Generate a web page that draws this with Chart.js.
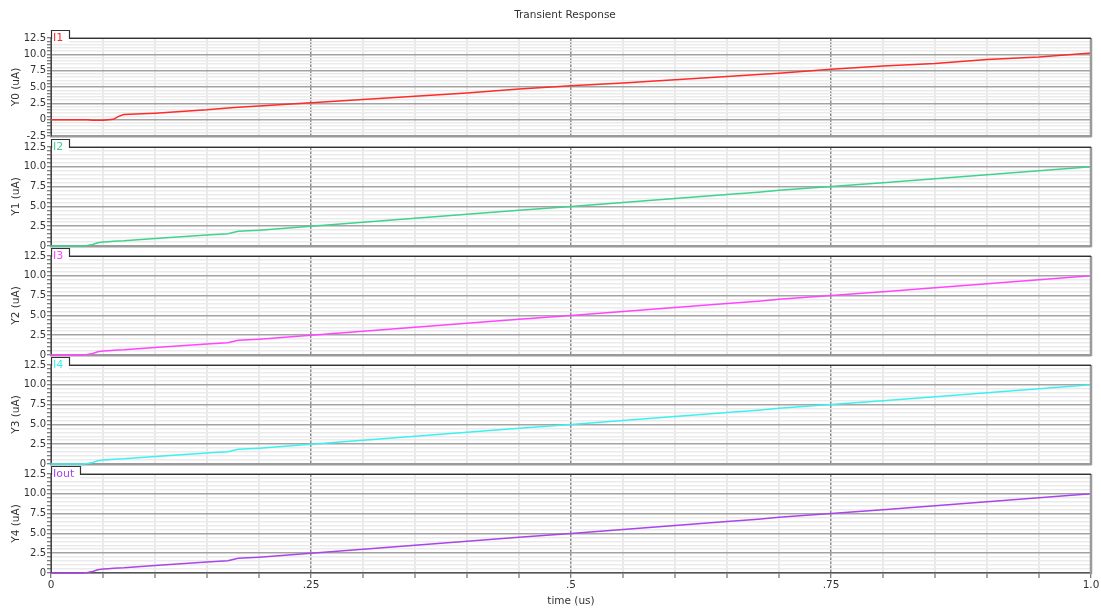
<!DOCTYPE html>
<html>
<head>
<meta charset="utf-8">
<title>Transient Response</title>
<script src="https://cdn.jsdelivr.net/npm/chart.js@4.4.1/dist/chart.umd.min.js"></script>
<style>
  html, body { margin: 0; padding: 0; background: #fff; }
  #wrap { position: relative; width: 1101px; height: 608px; overflow: hidden; background: #fff; }
  #wrap canvas { position: absolute; left: 0; }
</style>
</head>
<body>
<div id="wrap"></div>
<script>
// ---- data -------------------------------------------------------------
const timeUs = [0, 0.03, 0.035, 0.04, 0.045, 0.05, 0.055, 0.06, 0.065, 0.07, 0.1, 0.15, 0.17, 0.18, 0.2,
                0.25, 0.3, 0.35, 0.4, 0.45, 0.5, 0.55, 0.6, 0.65, 0.68, 0.7, 0.75, 0.8, 0.85, 0.9, 0.95, 1.0];

const i1   = [0, 0, 0, -0.1, -0.1, -0.1, 0, 0.05, 0.5, 0.8, 1.0, 1.5, 1.8, 1.9, 2.1,
              2.6, 3.1, 3.6, 4.1, 4.7, 5.2, 5.6, 6.1, 6.6, 6.9, 7.1, 7.7, 8.2, 8.6, 9.2, 9.6, 10.2];
const i2   = [0, 0, 0.05, 0.2, 0.4, 0.5, 0.55, 0.6, 0.62, 0.65, 0.95, 1.4, 1.55, 1.85, 2.0,
              2.5, 3.0, 3.5, 4.0, 4.5, 5.0, 5.5, 6.0, 6.5, 6.8, 7.05, 7.5, 8.0, 8.5, 9.0, 9.5, 10.0];
const i3   = [0, 0, 0.05, 0.2, 0.4, 0.5, 0.55, 0.6, 0.62, 0.65, 0.95, 1.4, 1.55, 1.85, 2.0,
              2.5, 3.0, 3.5, 4.0, 4.5, 5.0, 5.5, 6.0, 6.5, 6.8, 7.05, 7.5, 8.0, 8.5, 9.0, 9.5, 10.0];
const i4   = [0, 0, 0.05, 0.2, 0.4, 0.5, 0.55, 0.6, 0.62, 0.65, 0.95, 1.4, 1.55, 1.85, 2.0,
              2.5, 3.0, 3.5, 4.0, 4.5, 5.0, 5.5, 6.0, 6.5, 6.8, 7.05, 7.5, 8.0, 8.5, 9.0, 9.5, 10.0];
const iout = [0, 0, 0.05, 0.2, 0.4, 0.5, 0.55, 0.6, 0.62, 0.65, 0.95, 1.4, 1.55, 1.85, 2.0,
              2.5, 3.0, 3.5, 4.0, 4.5, 5.0, 5.5, 6.0, 6.5, 6.8, 7.05, 7.5, 8.0, 8.5, 9.0, 9.5, 10.0];

const seriesNames  = ['I1', 'I2', 'I3', 'I4', 'Iout'];
const seriesValues = [i1, i2, i3, i4, iout];
const axisTitles   = ['Y0 (uA)', 'Y1 (uA)', 'Y2 (uA)', 'Y3 (uA)', 'Y4 (uA)'];
const yMins        = [-2.5, 0, 0, 0, 0];
const yMaxs        = [12.5, 12.5, 12.5, 12.5, 12.5];
const xTickValues  = [0, 0.25, 0.5, 0.75, 1.0];
const xTickLabels  = ['0', '.25', '.5', '.75', '1.0'];

// ---- look & layout ----------------------------------------------------
const seriesColors = ['#ff2a2a', '#3fd38c', '#ff45ff', '#3ff0f0', '#a845ec'];
const tabWidths    = [18, 18, 18, 18, 29];
const panelTops    = [38, 147, 256, 365, 474];
const panelBottoms = [136, 246, 355, 464, 573];
const FONT = 'DejaVu Sans';
const PLOT_LEFT = 51, PLOT_RIGHT = 1091, PAGE_W = 1101, PAGE_H = 608;

const near = (v, step) => Math.abs(v / step - Math.round(v / step)) < 1e-6;

// Frame, panel tab and (on the first panel) the plot title.
const framePlugin = {
  id: 'frame',
  afterDraw(chart, args, opts) {
    const { ctx } = chart;
    const { left, top, right, bottom } = chart.chartArea;
    ctx.save();
    // right edge
    ctx.strokeStyle = '#9a9a9a';
    ctx.lineWidth = 2.5;
    ctx.beginPath();
    ctx.moveTo(right, top);
    ctx.lineTo(right, bottom + 1);
    ctx.stroke();
    // tab
    const tw = opts.tabWidth;
    ctx.fillStyle = '#fff';
    ctx.fillRect(left + 1, top - 7, tw - 1, 12);
    ctx.strokeStyle = '#333';
    ctx.lineWidth = 1.2;
    ctx.beginPath();
    ctx.moveTo(left + 0.5, top + 1);
    ctx.lineTo(left + 0.5, top - 7.5);
    ctx.lineTo(left + tw + 0.5, top - 7.5);
    ctx.lineTo(left + tw + 0.5, top + 0.5);
    ctx.lineTo(right, top + 0.5);
    ctx.stroke();
    ctx.font = '11px "' + FONT + '"';
    ctx.fillStyle = opts.color;
    ctx.textAlign = 'left';
    ctx.textBaseline = 'alphabetic';
    ctx.fillText(opts.label, left + 2, top + 3);
    if (opts.title) {
      ctx.font = '10.5px "' + FONT + '"';
      ctx.fillStyle = '#333';
      ctx.textAlign = 'center';
      ctx.textBaseline = 'middle';
      ctx.fillText(opts.title, 565, 15);
    }
    ctx.restore();
  }
};

const wrap = document.getElementById('wrap');

seriesNames.forEach((name, i) => {
  const last = i === seriesNames.length - 1;
  const canvasTop = i === 0 ? 0 : panelTops[i] - 10;
  const padTop = panelTops[i] - canvasTop;
  const padBottom = last ? 0 : (i === 0 ? 3 : 6);
  const xAxisH = last ? PAGE_H - panelBottoms[i] : 0;
  const canvasH = last ? PAGE_H - canvasTop : panelBottoms[i] - canvasTop + padBottom;

  const canvas = document.createElement('canvas');
  canvas.width = PAGE_W;
  canvas.height = canvasH;
  canvas.style.top = canvasTop + 'px';
  canvas.style.width = PAGE_W + 'px';
  canvas.style.height = canvasH + 'px';
  wrap.appendChild(canvas);

  const points = timeUs.map((t, k) => ({ x: t, y: seriesValues[i][k] }));

  new Chart(canvas, {
    type: 'line',
    data: {
      datasets: [{
        label: name,
        data: points,
        borderColor: seriesColors[i],
        borderWidth: 1.5,
        pointRadius: 0,
        tension: 0,
        fill: false,
        clip: 3
      }]
    },
    options: {
      responsive: false,
      animation: false,
      devicePixelRatio: 1,
      layout: { padding: { left: 0, right: PAGE_W - PLOT_RIGHT, top: padTop, bottom: padBottom } },
      plugins: {
        legend: { display: false },
        tooltip: { enabled: false },
        frame: {
          tabWidth: tabWidths[i],
          color: seriesColors[i],
          label: name,
          title: i === 0 ? 'Transient Response' : null
        }
      },
      scales: {
        x: {
          type: 'linear',
          min: 0,
          max: 1,
          afterBuildTicks(scale) {
            const ticks = [];
            for (let k = 0; k <= 20; k++) ticks.push({ value: k * 0.05 });
            scale.ticks = ticks;
          },
          afterFit(scale) {
            scale.height = xAxisH;
            scale.paddingLeft = 0;
            scale.paddingRight = 0;
          },
          ticks: {
            display: last,
            autoSkip: false,
            maxRotation: 0,
            padding: 1,
            color: '#333',
            font: { family: FONT, size: 10.5 },
            callback(v) {
              const idx = xTickValues.findIndex(t => Math.abs(t - v) < 1e-6);
              return idx >= 0 ? xTickLabels[idx] : '';
            }
          },
          grid: {
            drawTicks: last,
            tickLength: 5,
            color: c => near(c.tick.value, 0.25) ? '#8e8e8e' : '#e9e9e9',
            lineWidth: c => near(c.tick.value, 0.25) ? 1.5 : 2,
            tickColor: '#555',
            tickWidth: 1
          },
          border: { display: true, color: last ? '#555' : '#9a9a9a', width: last ? 1.5 : 2.5 },
          title: {
            display: last,
            text: 'time (us)',
            color: '#333',
            font: { family: FONT, size: 10.5 },
            padding: { top: 0, bottom: 0 }
          }
        },
        y: {
          type: 'linear',
          min: yMins[i],
          max: yMaxs[i],
          afterBuildTicks(scale) {
            const ticks = [];
            for (let v = yMins[i]; v <= yMaxs[i] + 1e-9; v += 0.5) ticks.push({ value: Math.round(v * 10) / 10 });
            scale.ticks = ticks;
          },
          afterFit(scale) {
            scale.width = PLOT_LEFT;
            scale.paddingTop = 0;
            scale.paddingBottom = 0;
          },
          ticks: {
            autoSkip: false,
            padding: 1,
            color: '#333',
            font: { family: FONT, size: 10 },
            callback(v) {
              if (!near(v, 2.5)) return '';
              return Math.abs(v) < 1e-9 ? '0' : v.toFixed(1);
            }
          },
          grid: {
            tickLength: 4,
            color: c => near(c.tick.value, 2.5) ? '#a3a3a3' : '#ebebeb',
            lineWidth: 1.5,
            tickColor: '#555',
            tickWidth: 1
          },
          border: { display: true, color: '#444', width: 1 },
          title: {
            display: true,
            text: axisTitles[i],
            color: '#333',
            font: { family: FONT, size: 10.5 },
            padding: { top: 10, bottom: 0 }
          }
        }
      }
    },
    plugins: [framePlugin]
  });
});
</script>
</body>
</html>
